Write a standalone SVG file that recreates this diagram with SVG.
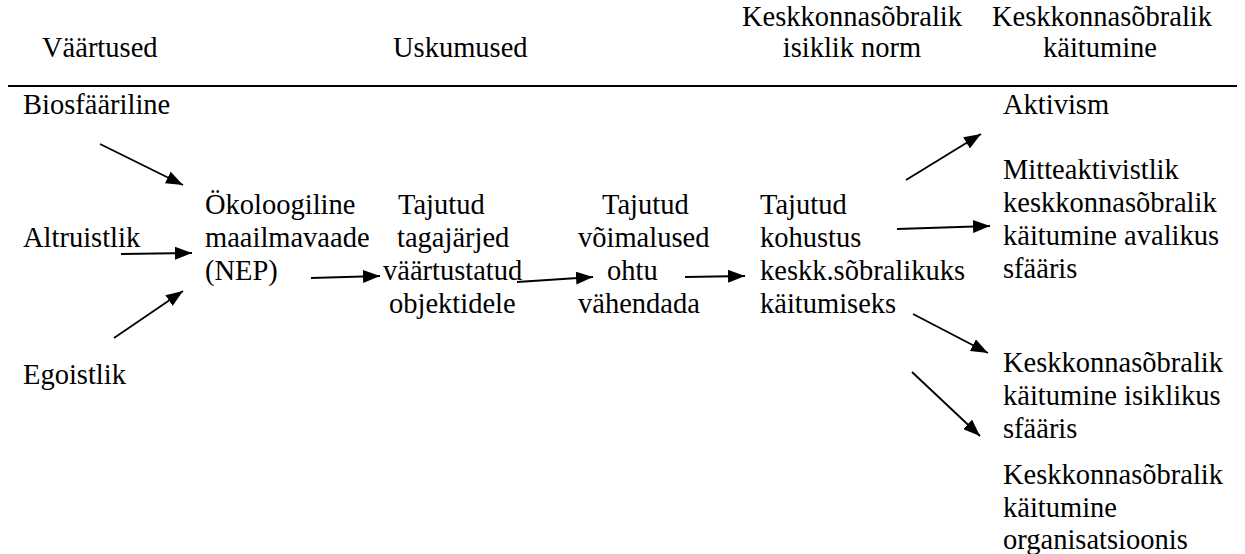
<svg xmlns="http://www.w3.org/2000/svg" width="1245" height="554" viewBox="0 0 1245 554">
<style>
text{font-family:'Liberation Serif','Times New Roman',serif;font-size:28.5px;fill:#000}
.c{text-anchor:middle}
.conn line{stroke:#000;stroke-width:1.8;fill:none}
</style>
<defs>
<marker id="ah" markerUnits="userSpaceOnUse" markerWidth="17" markerHeight="13" refX="17" refY="6.5" orient="auto">
<path d="M0,0 L17,6.5 L0,13 z" fill="#000"/>
</marker>
</defs>
<rect width="1245" height="554" fill="#fff"/>
<g id="headers">
<text x="42" y="57">Väärtused</text>
<text x="393" y="57">Uskumused</text>
<text class="c" x="852" y="26">Keskkonnasõbralik</text>
<text class="c" x="852" y="57">isiklik norm</text>
<text class="c" x="1102" y="26">Keskkonnasõbralik</text>
<text class="c" x="1100" y="57">käitumine</text>
<line x1="8" y1="86" x2="1237" y2="86" stroke="#000" stroke-width="1.8"/>
</g>
<g id="biosfaariline"><text x="23" y="114">Biosfääriline</text></g>
<g id="altruistlik"><text x="23" y="247">Altruistlik</text></g>
<g id="egoistlik"><text x="23" y="384">Egoistlik</text></g>
<g id="nep">
<text x="205" y="214">Ökoloogiline</text>
<text x="205" y="247">maailmavaade</text>
<text x="205" y="280">(NEP)</text>
</g>
<g id="tagajarjed">
<text x="398" y="214">Tajutud</text>
<text x="397" y="247">tagajärjed</text>
<text x="383" y="280">väärtustatud</text>
<text x="389" y="313">objektidele</text>
</g>
<g id="voimalused">
<text x="602" y="214">Tajutud</text>
<text x="578" y="247">võimalused</text>
<text x="607" y="280">ohtu</text>
<text x="578" y="313">vähendada</text>
</g>
<g id="kohustus">
<text x="760" y="214">Tajutud</text>
<text x="760" y="247">kohustus</text>
<text x="760" y="280">keskk.sõbralikuks</text>
<text x="760" y="313">käitumiseks</text>
</g>
<g id="aktivism"><text x="1003" y="114">Aktivism</text></g>
<g id="avalik">
<text x="1003" y="179">Mitteaktivistlik</text>
<text x="1003" y="212">keskkonnasõbralik</text>
<text x="1003" y="245">käitumine avalikus</text>
<text x="1003" y="278">sfääris</text>
</g>
<g id="isiklik">
<text x="1003" y="372">Keskkonnasõbralik</text>
<text x="1003" y="405">käitumine isiklikus</text>
<text x="1003" y="438">sfääris</text>
</g>
<g id="organisatsioon">
<text x="1003" y="484">Keskkonnasõbralik</text>
<text x="1003" y="517">käitumine</text>
<text x="1003" y="549">organisatsioonis</text>
</g>
<g id="connectors" class="conn">
<line x1="100" y1="144" x2="183" y2="185" marker-end="url(#ah)"/>
<line x1="121" y1="254" x2="192" y2="253" marker-end="url(#ah)"/>
<line x1="114" y1="338" x2="183" y2="291" marker-end="url(#ah)"/>
<line x1="311" y1="278" x2="380" y2="276" marker-end="url(#ah)"/>
<line x1="517" y1="282" x2="593" y2="277" marker-end="url(#ah)"/>
<line x1="685" y1="277" x2="745" y2="276" marker-end="url(#ah)"/>
<line x1="906" y1="180" x2="981" y2="134" marker-end="url(#ah)"/>
<line x1="897" y1="229" x2="990" y2="226" marker-end="url(#ah)"/>
<line x1="913" y1="314" x2="988" y2="353" marker-end="url(#ah)"/>
<line x1="912" y1="372" x2="980" y2="436" marker-end="url(#ah)"/>
</g>
</svg>
